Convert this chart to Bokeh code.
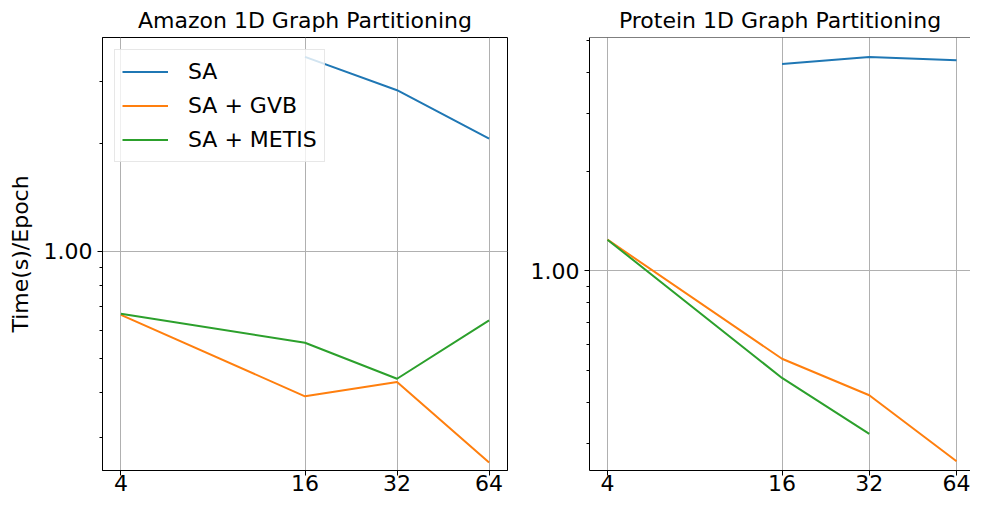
import math
from bokeh.plotting import figure
from bokeh.layouts import row
from bokeh.models import FixedTicker, PrintfTickFormatter, Range1d, Span, Legend, LegendItem
from bokeh.embed import file_html
from bokeh.resources import INLINE

NAN = float("nan")

# ---- data ----
num_parts = [4, 16, 32, 64]
x_tick_labels = ["4", "16", "32", "64"]
series_names = ["SA", "SA + GVB", "SA + METIS"]
series_colors = ["#1f77b4", "#ff7f0e", "#2ca02c"]

amazon_sa = [NAN, 3.51, 2.83, 2.07]
amazon_gvb = [0.662, 0.391, 0.429, 0.255]
amazon_metis = [0.667, 0.553, 0.438, 0.639]

protein_sa = [NAN, 4.24, 4.45, 4.35]
protein_gvb = [1.244, 0.542, 0.420, 0.265]
protein_metis = [1.244, 0.474, 0.321, NAN]

y_major_ticks = [1.0]
y_minor_ticks = [0.2, 0.3, 0.4, 0.5, 0.6, 0.7, 0.8, 0.9, 2, 3, 4, 5, 6, 7, 8, 9]

FONT = "DejaVu Sans"
FS = "22px"


def style(p, title):
    p.title.text = title
    p.title.text_font = FONT
    p.title.text_font_size = FS
    p.title.text_font_style = "normal"
    p.title.text_color = "black"
    p.title.align = "center"
    p.title.standoff = 9
    p.background_fill_color = "white"
    p.border_fill_color = "white"

    xa = p.xaxis[0]
    xa.ticker = FixedTicker(ticks=num_parts, minor_ticks=[])
    xa.major_label_overrides = {v: s for v, s in zip(num_parts, x_tick_labels)}
    ya = p.yaxis[0]
    ya.ticker = FixedTicker(ticks=y_major_ticks, minor_ticks=y_minor_ticks)
    ya.formatter = PrintfTickFormatter(format="%.2f")
    for ax in (xa, ya):
        ax.major_label_text_font = FONT
        ax.major_label_text_font_size = FS
        ax.major_label_text_color = "black"
        ax.axis_line_color = "black"
        ax.axis_line_width = 1
        ax.major_tick_line_color = "black"
        ax.minor_tick_line_color = "black"
        ax.major_tick_in = 0
        ax.major_tick_out = 5
        ax.minor_tick_in = 0
        ax.minor_tick_out = 3
        ax.minor_tick_line_width = 1
    xa.major_label_standoff = -1
    ya.major_label_standoff = 5

    p.xgrid.grid_line_color = "#b0b0b0"
    p.ygrid.grid_line_color = "#b0b0b0"
    p.xgrid.grid_line_width = 1
    p.ygrid.grid_line_width = 1
    p.xgrid.ticker = xa.ticker
    p.ygrid.ticker = FixedTicker(ticks=y_major_ticks)


# ---- left: Amazon ----
p1 = figure(width=515, height=496, x_axis_type="log", y_axis_type="log",
            x_range=Range1d(2 ** 1.8, 2 ** 6.2), y_range=Range1d(0.242, 3.98),
            output_backend="svg", toolbar_location=None,
            min_border_left=102, min_border_right=8, min_border_top=37, min_border_bottom=26)
style(p1, "Amazon 1D Graph Partitioning")
p1.outline_line_color = "black"
p1.outline_line_width = 1
p1.yaxis.axis_label = "Time(s)/Epoch"
p1.yaxis.axis_label_text_font = FONT
p1.yaxis.axis_label_text_font_size = FS
p1.yaxis.axis_label_text_font_style = "normal"
p1.yaxis.axis_label_text_color = "black"
p1.yaxis.axis_label_standoff = 8

items = []
for name, col, ys in zip(series_names, series_colors, [amazon_sa, amazon_gvb, amazon_metis]):
    r = p1.line(num_parts, ys, line_color=col, line_width=2)
    items.append(LegendItem(label=name, renderers=[r]))

legend = Legend(items=items, location="top_left", margin=12, padding=7, spacing=5,
                glyph_width=46, glyph_height=29, label_height=29, label_standoff=20,
                label_text_font=FONT, label_text_font_size=FS, label_text_color="black",
                border_line_color="#d0d0d0", border_line_width=1,
                background_fill_color="white", background_fill_alpha=0.8)
p1.add_layout(legend)

# ---- right: Protein ----
p2 = figure(width=455, height=496, x_axis_type="log", y_axis_type="log",
            x_range=Range1d(2 ** 1.794, 2 ** 6.16), y_range=Range1d(0.2485, 5.10),
            output_backend="svg", toolbar_location=None,
            min_border_left=74, min_border_right=0, min_border_top=37, min_border_bottom=26)
style(p2, "Protein 1D Graph Partitioning")
p2.outline_line_color = None
p2.add_layout(Span(location=5.10, dimension="width", line_color="black", line_width=1))

for col, ys in zip(series_colors, [protein_sa, protein_gvb, protein_metis]):
    p2.line(num_parts, ys, line_color=col, line_width=2)

layout = row(p1, p2)
open("out.html", "w").write(file_html(layout, INLINE))
